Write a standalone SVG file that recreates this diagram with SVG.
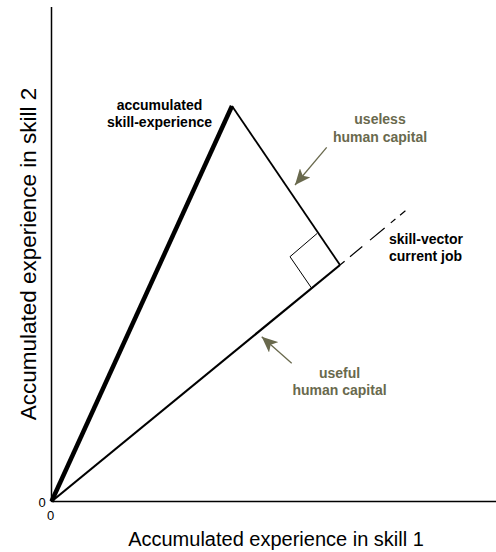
<svg xmlns="http://www.w3.org/2000/svg" width="496" height="552" viewBox="0 0 496 552">
<style>
.lbl{font-family:"Liberation Sans",Arial,sans-serif;font-weight:bold;font-size:14px;fill:#000}
.olive{fill:#69694d}
.axis{font-family:"Liberation Sans",Arial,sans-serif;font-size:20px;fill:#000}
.zero{font-family:"Liberation Sans",Arial,sans-serif;font-size:13px;fill:#000}
.ln{stroke:#000;fill:none}
.arr{stroke:#69694d;stroke-width:1.3;fill:none;marker-end:url(#head)}
</style>
<defs>
<marker id="head" viewBox="0 0 16 14" refX="16" refY="7" markerWidth="16" markerHeight="14" markerUnits="userSpaceOnUse" orient="auto">
<path d="M0,0 L16,7 L0,14 L4,7 Z" fill="#69694d"/>
</marker>
</defs>
<rect width="496" height="552" fill="#fff"/>
<g id="axes">
<line class="ln" x1="51.5" y1="7" x2="51.5" y2="502" stroke-width="1.5"/>
<line class="ln" x1="51.5" y1="501.5" x2="496" y2="501.5" stroke-width="1.5"/>
<text class="zero" x="42" y="506.5" text-anchor="middle">0</text>
<text class="zero" x="50.5" y="520" text-anchor="middle">0</text>
<text class="axis" x="276" y="546" text-anchor="middle">Accumulated experience in skill 1</text>
<text class="axis" transform="translate(36,254) rotate(-90)" text-anchor="middle" style="font-size:22.5px">Accumulated experience in skill 2</text>
</g>
<g id="connectors">
<line class="ln" x1="51.5" y1="501.5" x2="232" y2="106" stroke-width="4.5"/>
<line class="ln" x1="51.5" y1="501.5" x2="340" y2="265" stroke-width="2.2"/>
<line class="ln" x1="232" y1="106" x2="340" y2="265" stroke-width="1.8"/>
<line class="ln" x1="340" y1="265" x2="413.5" y2="204" stroke-width="1.2" stroke-dasharray="6 7 16 10 19 8 6"/>
<polyline class="ln" points="317.3,233.3 290,256.7 311.7,288.3" stroke-width="1"/>
<line class="arr" x1="326.7" y1="147.3" x2="295" y2="185"/>
<line class="arr" x1="291.7" y1="363.3" x2="261.7" y2="336.7"/>
</g>
<g id="label-accumulated">
<text class="lbl" x="159.5" y="110" text-anchor="middle">accumulated</text>
<text class="lbl" x="159.5" y="127" text-anchor="middle">skill-experience</text>
</g>
<g id="label-useless">
<text class="lbl olive" x="380" y="124" text-anchor="middle">useless</text>
<text class="lbl olive" x="380" y="142" text-anchor="middle">human capital</text>
</g>
<g id="label-skillvector">
<text class="lbl" x="389" y="243.5" text-anchor="start">skill-vector</text>
<text class="lbl" x="389" y="261" text-anchor="start">current job</text>
</g>
<g id="label-useful">
<text class="lbl olive" x="339.5" y="378" text-anchor="middle">useful</text>
<text class="lbl olive" x="339.5" y="395" text-anchor="middle">human capital</text>
</g>
</svg>
